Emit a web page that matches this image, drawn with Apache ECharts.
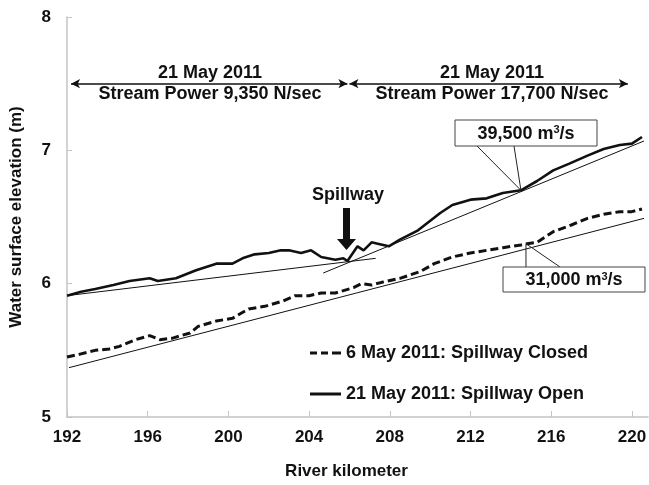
<!DOCTYPE html>
<html>
<head>
<meta charset="utf-8">
<script src="https://cdn.jsdelivr.net/npm/echarts@6/dist/echarts.min.js"></script>
<style>
  html, body { margin: 0; padding: 0; background: #fff; }
  #main { width: 649px; height: 485px; }
</style>
</head>
<body>
<div id="main"></div>
<script>
// 21 May 2011, spillway open (solid)
const openKm = [192.0, 192.7, 193.4, 194.3, 195.1, 196.1, 196.5, 197.4, 198.4, 199.4, 200.2, 200.7, 201.3, 202.0, 202.6, 203.0, 203.6, 204.1, 204.6, 205.3, 205.7, 205.9, 206.4, 206.7, 207.1, 207.4, 207.95, 208.5, 209.4, 210.5, 211.1, 212.0, 212.8, 213.6, 214.5, 215.3, 216.1, 216.9, 217.8, 218.6, 219.4, 220.0, 220.5];
const openElev = [5.91, 5.94, 5.96, 5.99, 6.02, 6.04, 6.02, 6.04, 6.10, 6.15, 6.15, 6.19, 6.22, 6.23, 6.25, 6.25, 6.23, 6.25, 6.20, 6.18, 6.19, 6.17, 6.28, 6.25, 6.31, 6.30, 6.28, 6.33, 6.40, 6.53, 6.59, 6.63, 6.64, 6.68, 6.70, 6.77, 6.85, 6.90, 6.96, 7.01, 7.04, 7.05, 7.10];
// 6 May 2011, spillway closed (dashed)
const closedKm = [192.0, 192.6, 193.4, 194.1, 194.6, 195.4, 196.1, 196.6, 197.2, 198.1, 198.5, 199.4, 200.2, 201.0, 201.8, 202.7, 203.3, 204.0, 204.6, 205.3, 206.2, 206.6, 207.1, 207.6, 208.5, 209.5, 210.2, 211.1, 212.0, 212.8, 213.6, 214.5, 214.8, 215.3, 216.1, 217.0, 217.8, 218.6, 219.4, 220.0, 220.5];
const closedElev = [5.45, 5.47, 5.50, 5.51, 5.53, 5.58, 5.61, 5.58, 5.59, 5.63, 5.68, 5.72, 5.74, 5.81, 5.83, 5.87, 5.91, 5.91, 5.93, 5.93, 5.97, 6.00, 5.99, 6.01, 6.04, 6.09, 6.15, 6.20, 6.23, 6.25, 6.27, 6.29, 6.30, 6.31, 6.39, 6.44, 6.49, 6.52, 6.54, 6.54, 6.56];
// thin trend lines
const fitUpKm = [192.0, 207.3];
const fitUpElev = [5.91, 6.19];
const fitDownKm = [204.7, 220.6];
const fitDownElev = [6.08, 7.07];
const fitClosedKm = [192.1, 220.6];
const fitClosedElev = [5.37, 6.49];
// ticks
const xTicks = [192, 196, 200, 204, 208, 212, 216, 220];

const zip = (a, b) => a.map((v, i) => [v, b[i]]);
const FONT = 'Liberation Sans, Arial, sans-serif';
const bold17 = { fontFamily: FONT, fontWeight: 'bold', fontSize: 17, color: '#111' };
const bold18 = { fontFamily: FONT, fontWeight: 'bold', fontSize: 18, color: '#111' };

function thin(name, km, elev) {
  return {
    name: name, type: 'line', data: zip(km, elev), symbol: 'none', silent: true,
    lineStyle: { color: '#111', width: 1 }, itemStyle: { color: '#111' }, z: 1
  };
}

const option = {
  animation: false,
  grid: { left: 64, right: 0, top: 17, bottom: 65 },
  xAxis: {
    type: 'value', min: 192, max: 220.8,
    name: 'River kilometer', nameLocation: 'middle', nameGap: 46,
    nameTextStyle: Object.assign({ padding: [0, 22, 0, 0] }, bold17),
    axisLine: { lineStyle: { color: '#c4c4c4', width: 1.5 } },
    axisTick: { inside: true, length: 6, customValues: xTicks, lineStyle: { color: '#c4c4c4' } },
    axisLabel: Object.assign({ margin: 12, customValues: xTicks }, bold17),
    splitLine: { show: false }
  },
  yAxis: {
    type: 'value', min: 5, max: 8, interval: 1,
    name: 'Water surface elevation (m)', nameLocation: 'middle', nameGap: 42,
    nameTextStyle: bold17,
    axisLine: { show: true, lineStyle: { color: '#c4c4c4', width: 1.5 } },
    axisTick: { show: true, inside: true, length: 5, lineStyle: { color: '#c4c4c4' } },
    axisLabel: Object.assign({ margin: 16 }, bold17),
    splitLine: { show: false }
  },
  legend: {
    orient: 'vertical', left: 305, top: 339, itemGap: 23,
    itemWidth: 31, itemHeight: 3,
    itemStyle: { color: '#111', borderWidth: 0 },
    data: [
      { name: '6 May 2011: Spillway Closed', icon: 'path://M0,0h7v3h-7z M11,0h7v3h-7z M22,0h9v3h-9z' },
      { name: '21 May 2011: Spillway Open', icon: 'path://M0,0h31v3h-31z' }
    ],
    textStyle: bold18
  },
  series: [
    {
      name: '6 May 2011: Spillway Closed', type: 'line', data: zip(closedKm, closedElev),
      symbol: 'none', itemStyle: { color: '#111' },
      lineStyle: { color: '#111', width: 3, type: [8, 4] }, z: 3
    },
    {
      name: '21 May 2011: Spillway Open', type: 'line', data: zip(openKm, openElev),
      symbol: 'none', itemStyle: { color: '#111' },
      lineStyle: { color: '#111', width: 2.6 }, z: 3,
      markLine: {
        silent: true, symbol: ['arrow', 'arrow'], symbolSize: [7, 9],
        lineStyle: { color: '#111', width: 1.5, type: 'solid' },
        label: { show: false },
        data: [
          [{ coord: [192.2, 7.5] }, { coord: [205.9, 7.5] }],
          [{ coord: [206.0, 7.5] }, { coord: [219.8, 7.5] }]
        ]
      }
    },
    thin('fitUp', fitUpKm, fitUpElev),
    thin('fitDown', fitDownKm, fitDownElev),
    thin('fitClosed', fitClosedKm, fitClosedElev)
  ]
};

const chart = echarts.init(document.getElementById('main'));
chart.setOption(option);

// annotations
const p = (km, el) => chart.convertToPixel({ gridIndex: 0 }, [km, el]);
const txt = (x, y, t) => ({
  type: 'text', x: x, y: y,
  style: Object.assign({ text: t, align: 'center', verticalAlign: 'middle' }, bold18, { fill: '#111' })
});
const rich = {
  a: { fontFamily: FONT, fontWeight: 'bold', fontSize: 18, fill: '#111' },
  s: { fontFamily: FONT, fontWeight: 'bold', fontSize: 11, fill: '#111', padding: [0, 0, 8, 0] }
};
function callout(bx, by, bw, bh, label, pt, starts) {
  const els = [
    { type: 'rect', shape: { x: bx, y: by, width: bw, height: bh }, style: { fill: '#fff', stroke: '#444', lineWidth: 1 }, z: 10 },
    { type: 'text', x: bx + bw / 2, y: by + bh / 2 + 1, z: 11,
      style: { text: label, rich: rich, align: 'center', verticalAlign: 'middle' } }
  ];
  starts.forEach(s => els.push({
    type: 'line', shape: { x1: s[0], y1: s[1], x2: pt[0], y2: pt[1] },
    style: { stroke: '#222', lineWidth: 1 }, z: 9
  }));
  return els;
}
const p39 = p(214.5, 6.70);
const p31 = p(214.75, 6.30);

chart.setOption({
  graphic: [
    txt(210, 73, '21 May 2011'),
    txt(210, 94, 'Stream Power 9,350 N/sec'),
    txt(492, 73, '21 May 2011'),
    txt(492, 94, 'Stream Power 17,700 N/sec'),
    txt(348, 195, 'Spillway'),
    {
      type: 'polygon',
      shape: { points: [[343, 208], [350, 208], [350, 239], [356, 239], [346.5, 250], [337, 239], [343, 239]] },
      style: { fill: '#111' }
    }
  ].concat(
    callout(455, 120, 142, 26, '{a|39,500 m}{s|3}{a|/s}', p39, [[477, 146], [514, 146]]),
    callout(503, 267, 142, 25, '{a|31,000 m}{s|3}{a|/s}', p31, [[p31[0], 267], [560, 267]])
  )
});
</script>
</body>
</html>
